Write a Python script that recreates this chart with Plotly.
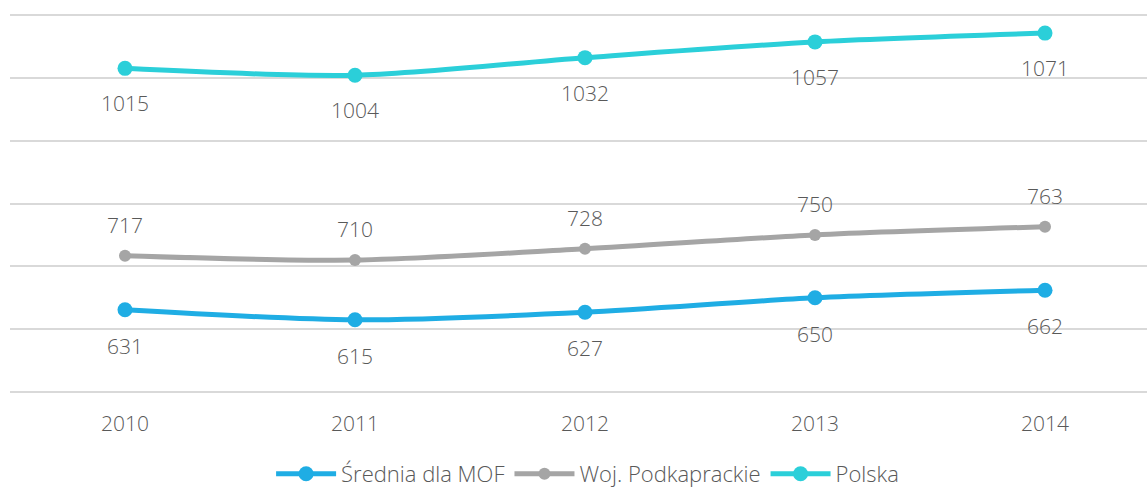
import plotly.graph_objects as go

years = ["2010", "2011", "2012", "2013", "2014"]
srednia = [631, 615, 627, 650, 662]
woj = [717, 710, 728, 750, 763]
polska = [1015, 1004, 1032, 1057, 1071]

series = [
    ("Średnia dla MOF", srednia, "#1FADE4", 15, -36),
    ("Woj. Podkaprackie", woj, "#A5A5A5", 12, 31),
    ("Polska", polska, "#2BCFD9", 15, -35),
]

FONT = "Open Sans"
TXT = "#595959"
W = 300

fig = go.Figure()
annotations = []
for name, vals, col, msize, shift in series:
    fig.add_trace(go.Scatter(
        x=years, y=vals, name=name, mode="lines+markers",
        line=dict(color=col, width=5, shape="spline", smoothing=0.8),
        marker=dict(color=col, size=msize),
    ))
    for i, yv in enumerate(vals):
        annotations.append(dict(x=i, y=yv, xref="x", yref="y", text=str(yv),
                                showarrow=False, yshift=shift,
                                font=dict(family=FONT, size=21, color=TXT, weight=W)))

fig.update_layout(
    width=1147, height=487,
    margin=dict(l=10, r=0, t=13, b=93, autoexpand=False),
    paper_bgcolor="white", plot_bgcolor="white",
    font=dict(family=FONT, size=21, color=TXT, weight=W),
    annotations=annotations,
    showlegend=True,
    legend=dict(orientation="h", x=0.508, xanchor="center", y=-0.21, yanchor="middle",
                font=dict(family=FONT, size=22, color=TXT, weight=W), itemwidth=60,
                tracegroupgap=0),
    xaxis=dict(type="category", range=[-0.5, 4.4435], showgrid=False, zeroline=False,
               showline=False, ticks="", ticklabelstandoff=15,
               tickfont=dict(family=FONT, size=21, color=TXT, weight=W)),
    yaxis=dict(range=[497, 1103], dtick=100, tick0=500, showgrid=True, gridcolor="#D9D9D9",
               gridwidth=2, showticklabels=False, zeroline=False, showline=False),
)

fig.write_html("out.html", config={"displayModeBar": False},
               post_script="document.body.style.margin='0';document.body.style.overflow='hidden';")
